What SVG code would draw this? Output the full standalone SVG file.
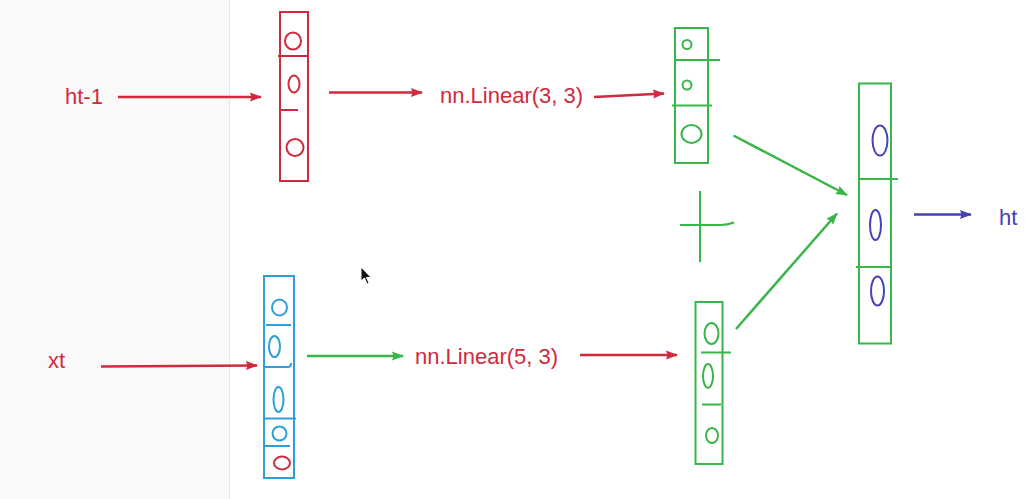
<svg xmlns="http://www.w3.org/2000/svg" width="1036" height="499" viewBox="0 0 1036 499">
<defs>
<marker id="ar" markerUnits="userSpaceOnUse" markerWidth="14" markerHeight="10" refX="11" refY="5" orient="auto"><path d="M0,0.5 L12,5 L0,9.5 L1.5,5 Z" fill="#d12a3c"/></marker>
<marker id="ag" markerUnits="userSpaceOnUse" markerWidth="14" markerHeight="10" refX="11" refY="5" orient="auto"><path d="M0,0.5 L12,5 L0,9.5 L1.5,5 Z" fill="#3ab54a"/></marker>
<marker id="ab" markerUnits="userSpaceOnUse" markerWidth="14" markerHeight="10" refX="11" refY="5" orient="auto"><path d="M0,0.5 L12,5 L0,9.5 L1.5,5 Z" fill="#4642b6"/></marker>
</defs>
<style>
.red{stroke:#d12a3c}
.grn{stroke:#3ab54a}
.cyn{stroke:#2e9fd9}
.blu{stroke:#4642b6}
.box{fill:none;stroke-width:2}
.ln{fill:none;stroke-width:2}
.arw{fill:none;stroke-width:2.5}
.t{font-family:"Liberation Sans",Arial,sans-serif;font-size:22px}
</style>
<rect x="0" y="0" width="1036" height="499" fill="#ffffff"/>
<rect x="0" y="0" width="229" height="499" fill="#f9f9f9"/>
<line x1="229.5" y1="0" x2="229.5" y2="499" stroke="#e6e6e6" stroke-width="1"/>

<g id="label-ht1"><text class="t" x="65" y="104" fill="#d12a3c">ht-1</text></g>
<g id="label-xt"><text class="t" x="48" y="368" fill="#d12a3c">xt</text></g>

<g id="vec-ht1">
<rect class="box red" x="280" y="12" width="28" height="169"/>
<line class="ln red" x1="278" y1="56" x2="309" y2="56"/>
<line class="ln red" x1="280" y1="110" x2="298" y2="110"/>
<ellipse class="ln red" cx="293" cy="41" rx="8" ry="8.5"/>
<ellipse class="ln red" cx="294" cy="84" rx="5.5" ry="8.5"/>
<ellipse class="ln red" cx="295" cy="147.5" rx="8.5" ry="8.5"/>
</g>

<g id="vec-xt">
<rect class="box cyn" x="264" y="276" width="30" height="202"/>
<line class="ln cyn" x1="266" y1="325" x2="291" y2="325"/>
<path class="ln cyn" d="M264,367 L288,367 Q291,367 291,363"/>
<line class="ln cyn" x1="264" y1="418.5" x2="296" y2="418.5"/>
<line class="ln cyn" x1="265" y1="446" x2="290" y2="446"/>
<ellipse class="ln cyn" cx="279.5" cy="307.5" rx="7.5" ry="8"/>
<ellipse class="ln cyn" cx="274.5" cy="346.5" rx="5.5" ry="10.5"/>
<ellipse class="ln cyn" cx="278.5" cy="399.5" rx="5" ry="12.5"/>
<ellipse class="ln cyn" cx="279.5" cy="433.5" rx="7" ry="7"/>
<ellipse class="ln red" cx="282" cy="463" rx="8" ry="6.5"/>
</g>

<g id="label-linear33"><text class="t" x="440" y="103" fill="#d12a3c">nn.Linear(3, 3)</text></g>
<g id="label-linear53"><text class="t" x="415" y="364" fill="#d12a3c">nn.Linear(5, 3)</text></g>

<g id="vec-out1">
<rect class="box grn" x="675" y="28" width="33" height="135"/>
<line class="ln grn" x1="675" y1="60" x2="720" y2="60"/>
<line class="ln grn" x1="672" y1="105.5" x2="712" y2="105.5"/>
<circle class="ln grn" cx="687" cy="44.5" r="4.5"/>
<circle class="ln grn" cx="687" cy="85" r="4.5"/>
<ellipse class="ln grn" cx="691.5" cy="134" rx="10" ry="9"/>
</g>

<g id="plus">
<line class="ln grn" x1="700" y1="191" x2="700" y2="262"/>
<path class="ln grn" d="M680,225 L721,225 Q727,225 734,222.5"/>
</g>

<g id="vec-out2">
<rect class="box grn" x="695.5" y="302" width="27" height="162"/>
<line class="ln grn" x1="701" y1="352.5" x2="731" y2="352.5"/>
<line class="ln grn" x1="702" y1="404.5" x2="721" y2="404.5"/>
<ellipse class="ln grn" cx="711.5" cy="333.5" rx="7" ry="10.5"/>
<ellipse class="ln grn" cx="708" cy="376" rx="5" ry="12"/>
<ellipse class="ln grn" cx="712" cy="435.5" rx="6" ry="7.5"/>
</g>

<g id="vec-ht">
<rect class="box grn" x="859" y="83.5" width="32" height="260"/>
<line class="ln grn" x1="859" y1="179" x2="898" y2="179"/>
<line class="ln grn" x1="856" y1="267" x2="891" y2="267"/>
<ellipse class="ln blu" cx="880" cy="140.5" rx="7.5" ry="15"/>
<ellipse class="ln blu" cx="875.5" cy="225" rx="5.5" ry="15"/>
<ellipse class="ln blu" cx="877.5" cy="291" rx="6.5" ry="14.5"/>
</g>

<g id="label-ht"><text class="t" x="999" y="225" fill="#4642b6">ht</text></g>

<g id="connectors">
<line class="arw red" x1="118" y1="97" x2="261" y2="97" marker-end="url(#ar)"/>
<line class="arw red" x1="101" y1="366.5" x2="257" y2="365.5" marker-end="url(#ar)"/>
<line class="arw red" x1="329" y1="92.5" x2="422" y2="92.5" marker-end="url(#ar)"/>
<line class="arw red" x1="594" y1="97" x2="664" y2="93.5" marker-end="url(#ar)"/>
<line class="arw grn" x1="307" y1="356" x2="403" y2="356" marker-end="url(#ag)"/>
<line class="arw red" x1="580" y1="355" x2="677" y2="355" marker-end="url(#ar)"/>
<line class="arw grn" x1="733.5" y1="135.5" x2="847" y2="195" marker-end="url(#ag)"/>
<line class="arw grn" x1="736" y1="329" x2="837" y2="213.5" marker-end="url(#ag)"/>
<line class="arw blu" x1="914" y1="214.5" x2="971" y2="214.5" marker-end="url(#ab)"/>
</g>

<path d="M361,267 L361,281 L364.5,278 L367,284 L369,283 L366.5,277.5 L371,277.5 Z" fill="#111" stroke="#fff" stroke-width="1"/>
</svg>
